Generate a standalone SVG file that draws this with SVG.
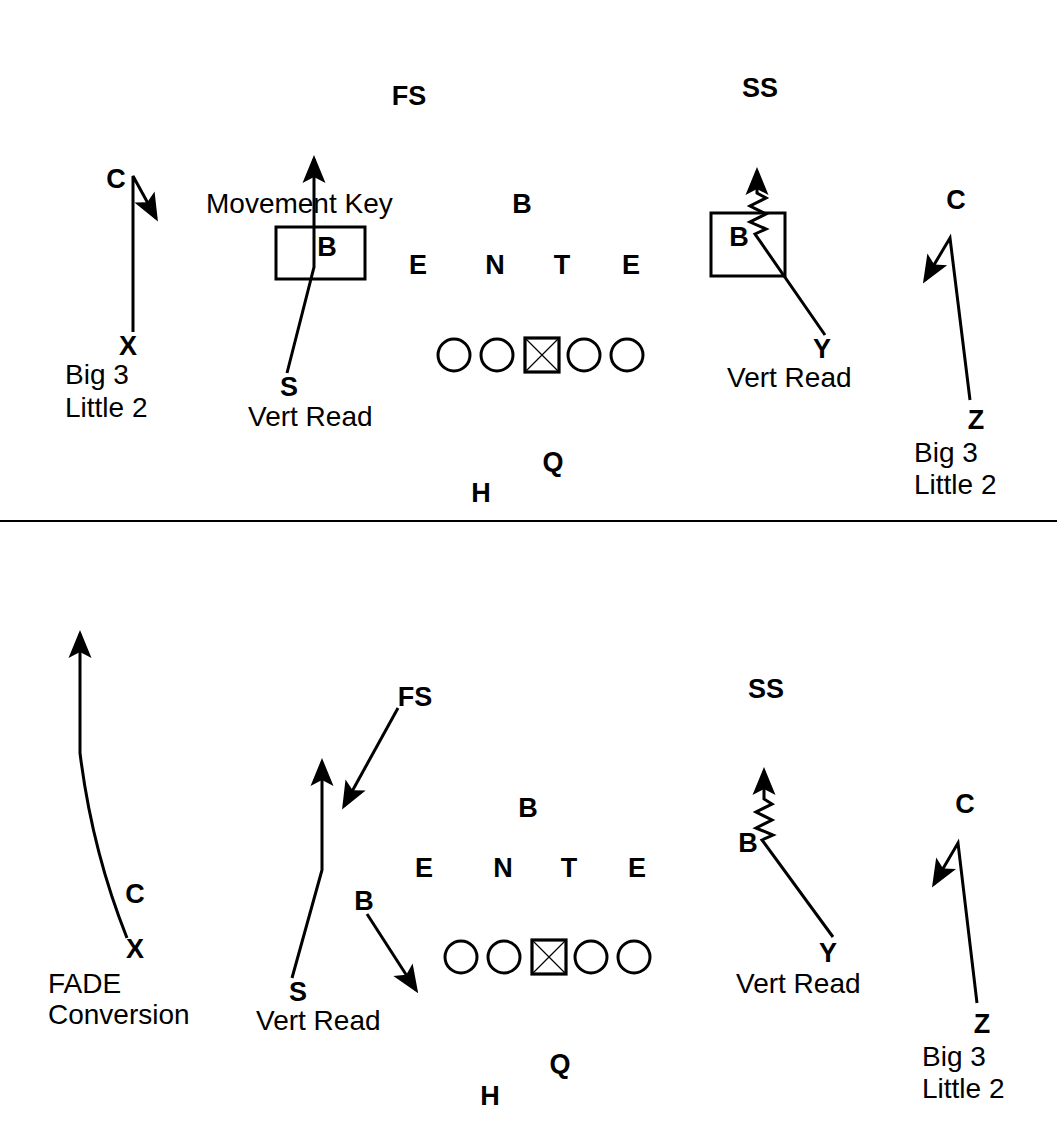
<svg xmlns="http://www.w3.org/2000/svg" width="1057" height="1128" viewBox="0 0 1057 1128">
<style>
.b{font-family:"Liberation Sans",Arial,sans-serif;font-weight:bold;font-size:27px;fill:#000;text-anchor:middle}
.r{font-family:"Liberation Sans",Arial,sans-serif;font-size:28px;fill:#000}
.route{fill:none;stroke:#000;stroke-width:3;stroke-linejoin:miter;marker-end:url(#ah)}
.box{fill:none;stroke:#000;stroke-width:3}
.ol{fill:none;stroke:#000;stroke-width:3}
</style>
<defs>
<marker id="ah" viewBox="0 0 32 24" refX="28" refY="12" markerWidth="32" markerHeight="24" markerUnits="userSpaceOnUse" orient="auto">
<path d="M32,12 L4,0.5 L10,12 L4,23.5 Z" fill="#000"/>
</marker>
<g id="line5">
<circle class="ol" cx="0" cy="0" r="16"/>
<circle class="ol" cx="43" cy="0" r="16"/>
<rect x="71" y="-17" width="34" height="34" fill="#fff" stroke="#000" stroke-width="3.2"/>
<path d="M71,-17 L105,17 M105,-17 L71,17" stroke="#000" stroke-width="1.2"/>
<circle class="ol" cx="130" cy="0" r="16"/>
<circle class="ol" cx="173" cy="0" r="16"/>
</g>
</defs>
<rect width="1057" height="1128" fill="#fff"/>
<line x1="0" y1="521" x2="1057" y2="521" stroke="#000" stroke-width="2"/>

<g id="connectors">
<path class="route" d="M133,332 L133,176 L156,218"/>
<path class="route" d="M287,373 L314,267 L314,159"/>
<path class="route" d="M825,335 L755,234 L766,229 L750,222 L766,214 L750,206 L766,198 L757,193 L757,171"/>
<path class="route" d="M970,400 L950,238 L925,280"/>
<path class="route" d="M127,938 Q92,850 80,753 L80,634"/>
<path class="route" d="M292,978 L322,870 L322,762"/>
<path class="route" d="M398,708 L344,806"/>
<path class="route" d="M367,914 L416,990"/>
<path class="route" d="M833,937 L762,840 L773,835 L756,828 L772,820 L756,812 L772,804 L764,799 L764,771"/>
<path class="route" d="M977,1003 L958,843 L934,884"/>
</g>

<g id="top-play">
<g id="t-fs"><text class="b" x="409" y="105">FS</text></g>
<g id="t-ss"><text class="b" x="760" y="97">SS</text></g>
<g id="t-c-left"><text class="b" x="116" y="188">C</text></g>
<g id="t-x"><text class="b" x="128" y="355">X</text><text class="r" x="65" y="384">Big 3</text><text class="r" x="65" y="417">Little 2</text></g>
<g id="t-movement-key"><text class="r" x="206" y="213">Movement Key</text></g>
<g id="t-b-box-left"><rect class="box" x="276" y="227" width="89" height="52"/><text class="b" x="327" y="256">B</text></g>
<g id="t-s"><text class="b" x="289" y="396">S</text><text class="r" x="248" y="426">Vert Read</text></g>
<g id="t-b-mid"><text class="b" x="522" y="213">B</text></g>
<g id="t-e1"><text class="b" x="418" y="274">E</text></g>
<g id="t-n"><text class="b" x="495" y="274">N</text></g>
<g id="t-t"><text class="b" x="562" y="274">T</text></g>
<g id="t-e2"><text class="b" x="631" y="274">E</text></g>
<g id="t-oline"><use href="#line5" x="454" y="355"/></g>
<g id="t-q"><text class="b" x="553" y="471">Q</text></g>
<g id="t-h"><text class="b" x="481" y="502">H</text></g>
<g id="t-b-box-right"><rect class="box" x="711" y="213" width="74" height="63"/><text class="b" x="739" y="246">B</text></g>
<g id="t-y"><text class="b" x="822" y="358">Y</text><text class="r" x="727" y="387">Vert Read</text></g>
<g id="t-c-right"><text class="b" x="956" y="209">C</text></g>
<g id="t-z"><text class="b" x="976" y="429">Z</text><text class="r" x="914" y="462">Big 3</text><text class="r" x="914" y="494">Little 2</text></g>
</g>

<g id="bottom-play">
<g id="b-c-left"><text class="b" x="135" y="903">C</text></g>
<g id="b-x"><text class="b" x="135" y="958">X</text><text class="r" x="48" y="993">FADE</text><text class="r" x="48" y="1024">Conversion</text></g>
<g id="b-fs"><text class="b" x="415" y="706">FS</text></g>
<g id="b-s"><text class="b" x="298" y="1001">S</text><text class="r" x="256" y="1030">Vert Read</text></g>
<g id="b-b-left"><text class="b" x="364" y="910">B</text></g>
<g id="b-b-mid"><text class="b" x="528" y="817">B</text></g>
<g id="b-e1"><text class="b" x="424" y="877">E</text></g>
<g id="b-n"><text class="b" x="503" y="877">N</text></g>
<g id="b-t"><text class="b" x="569" y="877">T</text></g>
<g id="b-e2"><text class="b" x="637" y="877">E</text></g>
<g id="b-oline"><use href="#line5" x="461" y="957"/></g>
<g id="b-q"><text class="b" x="560" y="1073">Q</text></g>
<g id="b-h"><text class="b" x="490" y="1105">H</text></g>
<g id="b-ss"><text class="b" x="766" y="698">SS</text></g>
<g id="b-b-right"><text class="b" x="748" y="852">B</text></g>
<g id="b-y"><text class="b" x="828" y="962">Y</text><text class="r" x="736" y="993">Vert Read</text></g>
<g id="b-c-right"><text class="b" x="965" y="813">C</text></g>
<g id="b-z"><text class="b" x="982" y="1033">Z</text><text class="r" x="922" y="1066">Big 3</text><text class="r" x="922" y="1098">Little 2</text></g>
</g>
</svg>
